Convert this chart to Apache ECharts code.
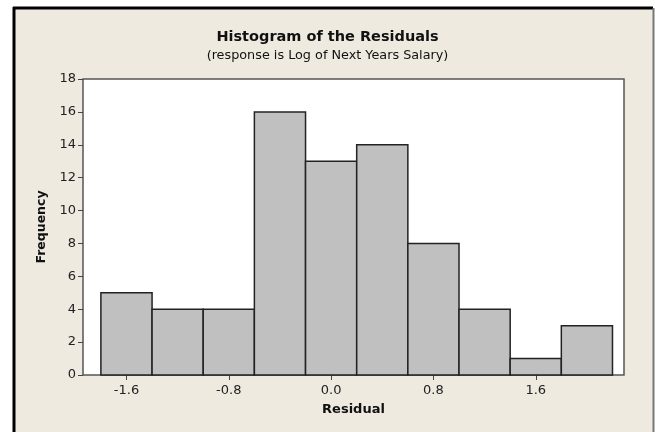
<!DOCTYPE html>
<html>
<head>
<meta charset="utf-8">
<script src="https://cdn.jsdelivr.net/npm/echarts@6/dist/echarts.min.js"></script>
<style>
  html, body { margin: 0; padding: 0; background: #ffffff; }
  #chart { width: 655px; height: 432px; }
</style>
</head>
<body>
<div id="chart"></div>
<script>
// Histogram bins: lower edge, upper edge and count of residuals in each
const binStarts = [-1.8, -1.4, -1.0, -0.6, -0.2, 0.2, 0.6, 1.0, 1.4, 1.8];
const binEnds   = [-1.4, -1.0, -0.6, -0.2, 0.2, 0.6, 1.0, 1.4, 1.8, 2.2];
const counts    = [5, 4, 4, 16, 13, 14, 8, 4, 1, 3];
const xTicks    = [-1.6, -0.8, 0.0, 0.8, 1.6];

const FONT = '"DejaVu Sans", Verdana, sans-serif';

const chart = echarts.init(document.getElementById('chart'), null, { renderer: 'canvas' });

const data = binStarts.map((s, i) => [s, binEnds[i], counts[i]]);

chart.setOption({
  animation: false,
  backgroundColor: '#ffffff',
  graphic: [
    { type: 'rect', z: -10, silent: true,
      shape: { x: 14, y: 8, width: 639, height: 430 },
      style: { fill: '#EEEAE0' } },
    { type: 'line', z: -9, silent: true, shape: { x1: 14, y1: 7, x2: 14, y2: 432 },
      style: { stroke: '#000', lineWidth: 3 } },
    { type: 'line', z: -9, silent: true, shape: { x1: 13, y1: 8, x2: 653, y2: 8 },
      style: { stroke: '#000', lineWidth: 3 } },
    { type: 'line', z: -9, silent: true, shape: { x1: 653.5, y1: 8, x2: 653.5, y2: 432 },
      style: { stroke: '#777', lineWidth: 2 } },
    { type: 'text', left: 'center', top: 30,
      style: { text: 'Histogram of the Residuals', font: 'bold 14.5px ' + FONT, fill: '#111' } },
    { type: 'text', left: 'center', top: 49,
      style: { text: '(response is Log of Next Years Salary)', font: '12.8px ' + FONT, fill: '#111' } }
  ],
  grid: { left: 83, top: 79, right: 31, bottom: 57, show: true,
          backgroundColor: '#ffffff', borderColor: '#555', borderWidth: 1.5 },
  xAxis: {
    type: 'value', min: -1.94, max: 2.29,
    splitLine: { show: false },
    axisLine: { show: false, onZero: false },
    axisTick: { show: true, length: 5, customValues: xTicks, lineStyle: { color: '#444' } },
    axisLabel: { customValues: xTicks, color: '#222', fontFamily: FONT, fontSize: 13, margin: 9,
                 formatter: v => v.toFixed(1) },
    name: 'Residual', nameLocation: 'middle', nameGap: 28,
    nameTextStyle: { fontFamily: FONT, fontWeight: 'bold', fontSize: 13, color: '#111' }
  },
  yAxis: {
    type: 'value', min: 0, max: 18, interval: 2,
    splitLine: { show: false },
    axisLine: { show: false, onZero: false },
    axisTick: { show: true, length: 5, lineStyle: { color: '#444' } },
    axisLabel: { color: '#222', fontFamily: FONT, fontSize: 13, margin: 7 },
    name: 'Frequency', nameLocation: 'middle', nameGap: 35,
    nameTextStyle: { fontFamily: FONT, fontWeight: 'bold', fontSize: 12.5, color: '#111' }
  },
  series: [{
    type: 'custom',
    data: data,
    encode: { x: [0, 1], y: 2 },
    renderItem: function (params, api) {
      const p0 = api.coord([api.value(0), api.value(2)]);
      const p1 = api.coord([api.value(1), 0]);
      return {
        type: 'rect',
        shape: { x: p0[0], y: p0[1], width: p1[0] - p0[0], height: p1[1] - p0[1] },
        style: { fill: '#C0C0C0', stroke: '#222', lineWidth: 1.5 }
      };
    }
  }]
});
</script>
</body>
</html>
